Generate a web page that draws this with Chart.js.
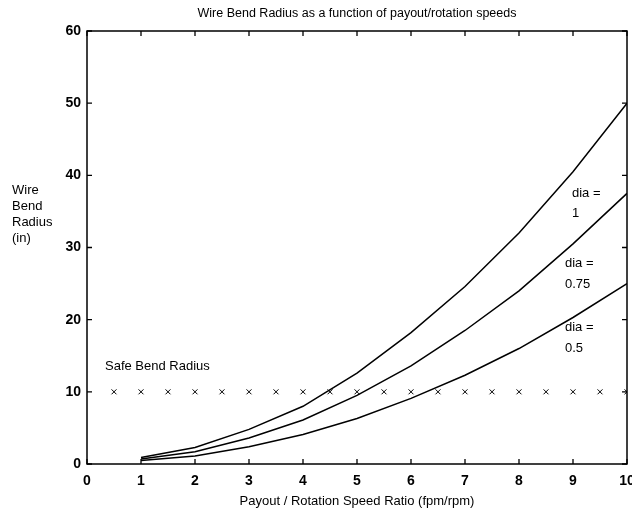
<!DOCTYPE html>
<html><head><meta charset="utf-8">
<script src="https://cdn.jsdelivr.net/npm/chart.js@4/dist/chart.umd.min.js"></script>
<style>html,body{margin:0;padding:0;background:#fff}#wrap{width:632px;height:517px}</style>
</head><body><div id="wrap"><canvas id="c" width="632" height="517"></canvas></div>
<script>
const ratio = [1,2,3,4,5,6,7,8,9,10];
const dia1 = [0.9,2.3,4.8,8.0,12.6,18.2,24.6,32.0,40.5,50.0];
const dia075 = [0.7,1.7,3.6,6.1,9.5,13.6,18.5,24.0,30.5,37.5];
const dia05 = [0.5,1.1,2.4,4.1,6.3,9.1,12.3,16.0,20.3,25.0];
const safeX = [0.5,1,1.5,2,2.5,3,3.5,4,4.5,5,5.5,6,6.5,7,7.5,8,8.5,9,9.5,10];
const safeY = [10,10,10,10,10,10,10,10,10,10,10,10,10,10,10,10,10,10,10,10];
const xTicks = [0,1,2,3,4,5,6,7,8,9,10];
const yTicks = [0,10,20,30,40,50,60];
const titleText = 'Wire Bend Radius as a function of payout/rotation speeds';
const xTitle = 'Payout / Rotation Speed Ratio (fpm/rpm)';
const yTitle = ['Wire','Bend','Radius','(in)'];

const pts = (xs, ys) => xs.map((x,i)=>({x, y: ys[i]}));
const lineDs = (d) => ({data: pts(ratio,d), showLine:true, borderColor:'#000', borderWidth:1.5, pointRadius:0, tension:0, fill:false});

const FONT = '"Liberation Sans", Arial, Helvetica, sans-serif';

const deco = {
  id:'deco',
  afterDraw(chart){
    const {ctx, chartArea:a, scales:{x,y}} = chart;
    ctx.save();
    ctx.strokeStyle='#000'; ctx.lineWidth=1.5;
    ctx.strokeRect(a.left, a.top, a.right-a.left, a.bottom-a.top);
    ctx.lineWidth=1.3;
    const L=5;
    xTicks.forEach(v=>{const px=x.getPixelForValue(v);
      ctx.beginPath();ctx.moveTo(px,a.bottom);ctx.lineTo(px,a.bottom-L);
      ctx.moveTo(px,a.top);ctx.lineTo(px,a.top+L);ctx.stroke();});
    yTicks.forEach(v=>{const py=y.getPixelForValue(v);
      ctx.beginPath();ctx.moveTo(a.left,py);ctx.lineTo(a.left+L,py);
      ctx.moveTo(a.right,py);ctx.lineTo(a.right-L,py);ctx.stroke();});
    ctx.fillStyle='#000';
    ctx.font='12.5px '+FONT; ctx.textAlign='center'; ctx.textBaseline='middle';
    ctx.fillText(titleText, 357, 14);
    ctx.font='13px '+FONT;
    ctx.fillText(xTitle, 357, 501);
    ctx.textAlign='left';
    yTitle.forEach((t,i)=>ctx.fillText(t, 12, 190+i*16));
    ctx.fillText('Safe Bend Radius', 105, 366);
    ctx.fillText('dia =', 572, 193); ctx.fillText('1', 572, 213);
    ctx.fillText('dia =', 565, 263); ctx.fillText('0.75', 565, 284);
    ctx.fillText('dia =', 565, 327); ctx.fillText('0.5', 565, 348);
    ctx.restore();
  }
};

new Chart(document.getElementById('c'), {
  type:'scatter',
  data:{datasets:[
    lineDs(dia1), lineDs(dia075), lineDs(dia05),
    {data: pts(safeX,safeY), showLine:false, pointStyle:'crossRot', pointRadius:3.5, borderColor:'#000', borderWidth:1, backgroundColor:'#000'}
  ]},
  options:{
    responsive:false, animation:false, devicePixelRatio:1,
    layout:{padding:{top:31,right:4,left:0,bottom:0}},
    plugins:{legend:{display:false}, tooltip:{enabled:false}, title:{display:false}},
    scales:{
      x:{type:'linear', min:0, max:10,
        afterBuildTicks(s){s.ticks = xTicks.map(v=>({value:v}));},
        afterFit(s){s.height=53; s.paddingLeft=0; s.paddingRight=0;},
        grid:{display:false, drawTicks:false, tickLength:0}, border:{display:false},
        ticks:{color:'#000', padding:9, maxRotation:0, autoSkip:false, font:{family:FONT, size:14, weight:'bold'}}},
      y:{type:'linear', min:0, max:60,
        afterBuildTicks(s){s.ticks = yTicks.map(v=>({value:v}));},
        afterFit(s){s.width=87; s.paddingTop=0; s.paddingBottom=0;},
        grid:{display:false, drawTicks:false, tickLength:0}, border:{display:false},
        ticks:{color:'#000', padding:6, autoSkip:false, font:{family:FONT, size:14, weight:'bold'}}}
    }
  },
  plugins:[deco]
});
</script></body></html>
